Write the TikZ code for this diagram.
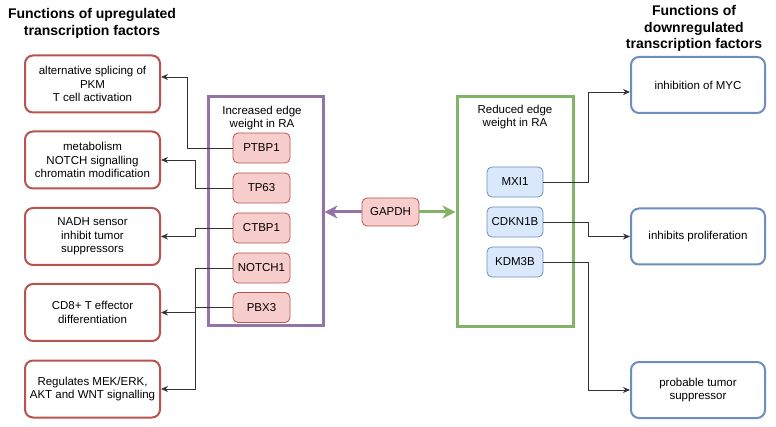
\documentclass[tikz,border=0pt]{standalone}
\usepackage{fontspec}
\setmainfont{Liberation Sans}
\usetikzlibrary{arrows.meta}

\definecolor{upred}{HTML}{B85450}
\definecolor{upfill}{HTML}{F8CECC}
\definecolor{downblue}{HTML}{6C8EBF}
\definecolor{downfill}{HTML}{DAE8FC}
\definecolor{incpurple}{HTML}{9673A6}
\definecolor{redgreen}{HTML}{82B366}

\tikzset{
    txt/.style={font=\fontsize{11.5}{13.5}\selectfont, align=center},
    heading/.style={font=\bfseries\fontsize{14}{16.5}\selectfont, align=center},
    funcup/.style={txt, draw=upred, line width=2pt, rounded corners=8pt, fill=white,
        minimum width=135pt, minimum height=57pt, inner sep=2pt},
    funcdown/.style={funcup, draw=downblue, minimum width=134pt, minimum height=56pt},
    tfup/.style={txt, draw=upred, fill=upfill, line width=0.8pt, rounded corners=5pt,
        minimum width=57pt, minimum height=30pt, inner sep=1pt},
    tfdown/.style={tfup, draw=downblue, fill=downfill, minimum width=56pt},
    group/.style={line width=3pt, inner sep=0pt},
    conn/.style={draw=black!80, line width=0.8pt, -{Stealth[length=7pt, width=6pt]}},
    fat/.style={line width=3pt, -{Stealth[length=13pt, width=13pt, inset=4pt]}}
}

\begin{document}
\begin{tikzpicture}[x=1pt, y=-1pt]
        \useasboundingbox (0,0) rectangle (776,427);

        % Headings
        \node[heading] (hup) at (92,23.5) {Functions of upregulated\\transcription factors};
        \node[heading] (hdown) at (694,28.5) {Functions of\\downregulated\\transcription factors};

        % Functions of upregulated factors
        \node[funcup] (f1) at (92.5,84) {alternative splicing of\\PKM\\T cell activation};
        \node[funcup] (f2) at (92.5,160) {metabolism\\NOTCH signalling\\chromatin modification};
        \node[funcup] (f3) at (92.5,236.5) {NADH sensor\\inhibit tumor\\suppressors};
        \node[funcup] (f4) at (92.5,312.5) {CD8+ T effector\\differentiation};
        \node[funcup] (f5) at (92.5,389) {Regulates MEK/ERK,\\AKT and WNT signalling};

        % Increased edge weight
        \node[group, draw=incpurple, minimum width=115pt, minimum height=229pt] (incbox) at (265.5,211.5) {};
        \node[txt] (inctitle) at (262,118) {Increased edge\\weight in RA};
        \node[tfup] (ptbp) at (261.5,148) {PTBP1};
        \node[tfup] (tp) at (261.5,188) {TP63};
        \node[tfup] (ctbp) at (261.5,228) {CTBP1};
        \node[tfup] (notch) at (261.5,268) {NOTCH1};
        \node[tfup] (pbx) at (261.5,307.5) {PBX3};

        % GAPDH
        \node[tfup, minimum height=28pt] (gapdh) at (390.5,212) {GAPDH};

        % Reduced edge weight
        \node[group, draw=redgreen, minimum width=116pt, minimum height=230pt] (redbox) at (515,212) {};
        \node[txt] (redtitle) at (515,117) {Reduced edge\\weight in RA};
        \node[tfdown] (mxi) at (515,182) {MXI1};
        \node[tfdown] (cdkn) at (515,222) {CDKN1B};
        \node[tfdown] (kdm) at (515,262) {KDM3B};

        % Functions of downregulated factors
        \node[funcdown] (d1) at (698,85) {inhibition of MYC};
        \node[funcdown] (d2) at (698,236.5) {inhibits proliferation};
        \node[funcdown] (d3) at (698,390) {probable tumor\\suppressor};

        % GAPDH arrows
        \draw[fat, incpurple] (gapdh.west) -- (gapdh.west -| incbox.east);
        \draw[fat, redgreen] (gapdh.east) -- (gapdh.east -| redbox.west);

        % Connectors left
        \draw[conn] (ptbp.west) -- ++(-45,0) |- ([yshift=7pt]f1.east);
        \draw[conn] (tp.west) -- ++(-37,0) |- (f2.east);
        \draw[conn] (ctbp.west) -- ++(-37,0) |- (f3.east);
        \draw[conn] (notch.west) -- ++(-37,0) |- (f5.east);
        \draw[conn] (pbx.west) -- ++(-37,0) |- (f4.east);

        % Connectors right
        \draw[conn] (mxi.east) -- ++(45,0) |- ([yshift=-7pt]d1.west);
        \draw[conn] (cdkn.east) -- ++(45,0) |- (d2.west);
        \draw[conn] (kdm.east) -- ++(45,0) |- (d3.west);
    \end{tikzpicture}
\end{document}
